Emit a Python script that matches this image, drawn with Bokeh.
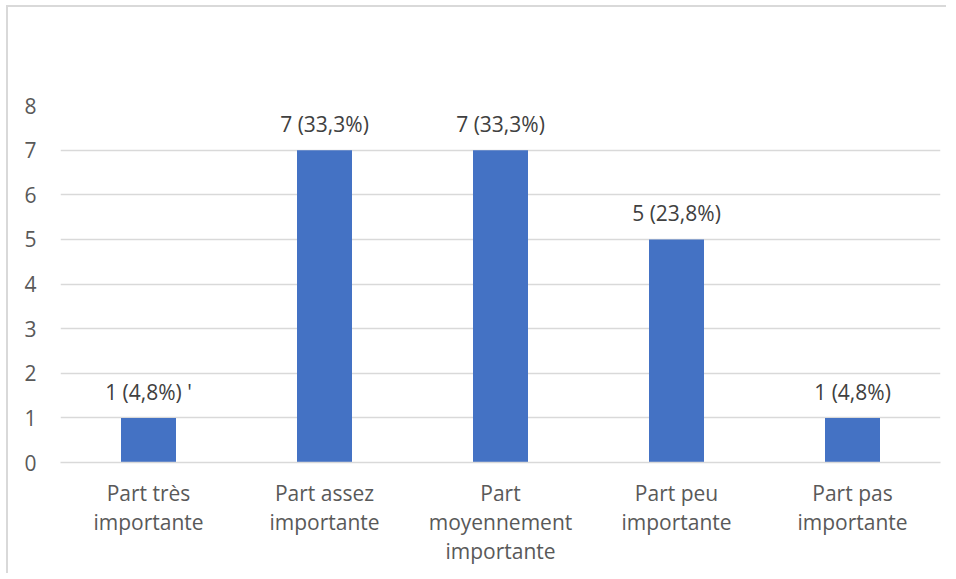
from bokeh.plotting import figure
from bokeh.models import FactorRange, Range1d, FixedTicker, ColumnDataSource
from bokeh.core.properties import value
from bokeh.embed import file_html
from bokeh.resources import INLINE

categories = ["Part très\nimportante", "Part assez\nimportante", "Part\nmoyennement\nimportante",
              "Part peu\nimportante", "Part pas\nimportante"]
counts = [1, 7, 7, 5, 1]
labels = ["1 (4,8%) '", "7 (33,3%)", "7 (33,3%)", "5 (23,8%)", "1 (4,8%)"]
y_ticks = [0, 1, 2, 3, 4, 5, 6, 7, 8]

FONT = "Open Sans"

p = figure(x_range=FactorRange(*categories, range_padding=0), y_range=Range1d(0, 8),
           width=940, height=568, output_backend="svg", toolbar_location=None,
           min_border_left=52, min_border_right=8, min_border_top=98, min_border_bottom=113,
           styles={"border-top": "2px solid #d9d9d9", "border-left": "2px solid #d9d9d9",
                   "margin-top": "5px", "margin-left": "6px"})
p.outline_line_color = None

src = ColumnDataSource(dict(cat=categories, v=counts, lab=labels))
p.vbar(x="cat", top="v", width=0.3125, source=src, fill_color="#4472C4", line_color=None)
p.text(x="cat", y="v", text="lab", source=src, y_offset=-12, text_align="center",
       text_baseline="bottom", text_font=value(FONT), text_font_size="21px", text_color="#404040")

p.yaxis.ticker = FixedTicker(ticks=y_ticks)
p.yaxis.axis_line_color = None
p.yaxis.major_tick_line_color = None
p.yaxis.minor_tick_line_color = None
p.yaxis.major_label_standoff = 18
p.yaxis.major_label_text_font = FONT
p.yaxis.major_label_text_font_size = "21px"
p.yaxis.major_label_text_color = "#595959"

p.xaxis.axis_line_color = "#d9d9d9"
p.xaxis.axis_line_width = 1.5
p.xaxis.major_tick_line_color = None
p.xaxis.major_label_standoff = 10
p.xaxis.major_label_text_font = FONT
p.xaxis.major_label_text_font_size = "21px"
p.xaxis.major_label_text_color = "#595959"
p.xaxis.major_label_text_line_height = 1.05
p.xaxis.major_label_orientation = "horizontal"

p.xgrid.grid_line_color = None
p.ygrid.grid_line_color = "#d9d9d9"
p.ygrid.grid_line_width = 1.5

open("out.html", "w").write(file_html(p, INLINE))
